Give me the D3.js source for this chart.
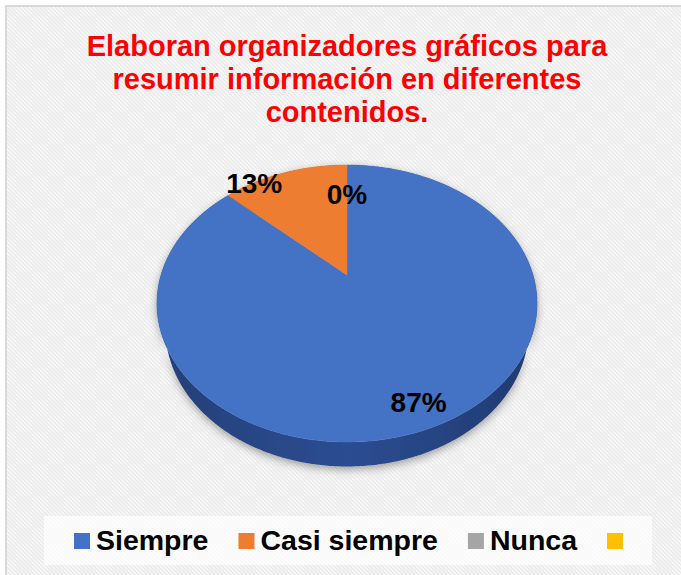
<!DOCTYPE html>
<html>

<head>
    <meta charset="UTF-8">
    <title>pie3d</title>
    <style>
        body { margin: 0; background: #fff; }
        text { font-family: Arial, "Liberation Sans", sans-serif; font-weight: bold; }
    </style>
</head>

<body>
    <script src="https://cdn.jsdelivr.net/npm/d3@7"></script>
    <svg id="chart" width="681" height="575"></svg>

    <script>
        // datos
        const categorias = ["Siempre", "Casi siempre", "Nunca", ""];
        const valores = [87, 13, 0, null];
        const colores = ["#4472C4", "#ED7D31", "#A5A5A5", "#FFC000"];
        const etiquetas = ["87%", "13%", "0%", null];
        const titulo = ["Elaboran organizadores gráficos para", "resumir información en diferentes", "contenidos."];

        const width = 681, height = 575;
        const svg = d3.select("#chart");
        const defs = svg.append("defs");

        // fondo con rayas
        const pat = defs.append("pattern").attr("id", "fondo")
            .attr("patternUnits", "userSpaceOnUse").attr("width", 32).attr("height", 32);
        pat.append("rect").attr("width", 32).attr("height", 32).attr("fill", "#fbfbfb");
        pat.append("rect").attr("width", 16).attr("height", 16).attr("fill", "#f6f6f6");
        pat.append("rect").attr("x", 16).attr("y", 16).attr("width", 16).attr("height", 16).attr("fill", "#f6f6f6");
        for (let k = -32; k <= 32; k += 4) {
            pat.append("line").attr("x1", k).attr("y1", 0).attr("x2", k + 32).attr("y2", 32)
                .attr("stroke", "#e9e9e9").attr("stroke-width", 1.4);
        }

        svg.append("rect").attr("x", 6).attr("y", 6).attr("width", width + 10).attr("height", height + 10)
            .attr("fill", "url(#fondo)").attr("stroke", "#d9d9d9").attr("stroke-width", 2);

        // titulo
        svg.append("g").selectAll("text").data(titulo).join("text")
            .attr("x", 347).attr("y", (d, i) => 56 + i * 33)
            .attr("text-anchor", "middle").attr("fill", "#FF0000")
            .style("font-size", "29px").text(d => d);

        // proyeccion 3D simple del pastel
        const R = 186, sElev = 0.713, cElev = 0.701, D = 633, grosor = 40;
        const cx0 = 347, cy0 = 275;
        const proj = function (theta, rho, prof) {
            const x3 = rho * R * Math.sin(theta);
            const y3 = -rho * R * Math.cos(theta) * sElev + prof * cElev;
            const z = rho * R * Math.cos(theta) * cElev + prof * sElev;
            const f = D / (D + z);
            return [cx0 + x3 * f, cy0 + y3 * f];
        };
        const borde = function (a0, a1, prof) {
            const n = Math.max(2, Math.ceil(Math.abs(a1 - a0) / 0.01));
            return d3.range(n + 1).map(i => proj(a0 + (a1 - a0) * i / n, 1, prof));
        };

        const pie = d3.pie().sort(null).value(d => d.v || 0).startAngle(0).endAngle(2 * Math.PI);
        const arcs = pie(categorias.map((c, i) => ({ c: c, v: valores[i], col: colores[i], lab: etiquetas[i] })));
        const visibles = arcs.filter(d => d.endAngle - d.startAngle > 0);

        // sombra
        const sombra = defs.append("filter").attr("id", "sombra").attr("x", "-20%").attr("y", "-20%")
            .attr("width", "140%").attr("height", "140%");
        sombra.append("feDropShadow").attr("dx", 0).attr("dy", 3).attr("stdDeviation", 4)
            .attr("flood-color", "#000").attr("flood-opacity", 0.35);

        const gradLado = defs.append("linearGradient").attr("id", "lado")
            .attr("x1", 0).attr("x2", 1).attr("y1", 0).attr("y2", 0);
        gradLado.append("stop").attr("offset", "0%").attr("stop-color", "#243f78");
        gradLado.append("stop").attr("offset", "50%").attr("stop-color", "#2c4d91");
        gradLado.append("stop").attr("offset", "100%").attr("stop-color", "#203a70");

        const linea = d3.line();

        // lados
        svg.append("g").attr("filter", "url(#sombra)").selectAll("path").data(visibles).join("path")
            .attr("d", d => {
                const arriba = borde(d.startAngle, d.endAngle, 0);
                const abajo = borde(d.endAngle, d.startAngle, grosor);
                return linea(arriba.concat(abajo)) + "Z";
            })
            .attr("fill", (d, i) => i === 0 ? "url(#lado)" : d3.color(d.data.col).darker(1));

        // caras superiores
        svg.append("g").selectAll("path").data(visibles).join("path")
            .attr("d", d => linea([[cx0, cy0]].concat(borde(d.startAngle, d.endAngle, 0))) + "Z")
            .attr("fill", d => d.data.col)
            .attr("stroke", d => d.data.col).attr("stroke-width", 0.5);

        // etiquetas
        const posEtiqueta = function (d) {
            const m = (d.startAngle + d.endAngle) / 2;
            if (d.index === 1) {
                const p = proj(d.startAngle, 1, 0);
                return [p[0] + 26, p[1] - 12];
            }
            if (d.index === 0) {
                const p = proj(m, 0.8, 0);
                return [p[0] + 2, p[1] + 12];
            }
            return proj(m, 0.7, 0);
        };
        svg.append("g").selectAll("text").data(arcs.filter(d => d.data.lab)).join("text")
            .attr("x", d => posEtiqueta(d)[0]).attr("y", d => posEtiqueta(d)[1])
            .attr("dy", "0.35em").attr("text-anchor", "middle").attr("fill", "#000")
            .style("font-size", "28px").text(d => d.data.lab);

        // leyenda
        svg.append("rect").attr("x", 44).attr("y", 516).attr("width", 608).attr("height", 49)
            .attr("fill", "#fff").attr("opacity", 0.7);
        const leyenda = svg.append("g");
        let lx = 74;
        categorias.forEach((c, i) => {
            leyenda.append("rect").attr("x", lx).attr("y", 533).attr("width", 16).attr("height", 16)
                .attr("fill", colores[i]);
            lx += 22;
            if (c) {
                const t = leyenda.append("text").attr("x", lx).attr("y", 550)
                    .attr("fill", "#000").style("font-size", "28.5px").text(c);
                lx += t.node().getComputedTextLength() + 30;
            }
        });
    </script>

</body>

</html>
